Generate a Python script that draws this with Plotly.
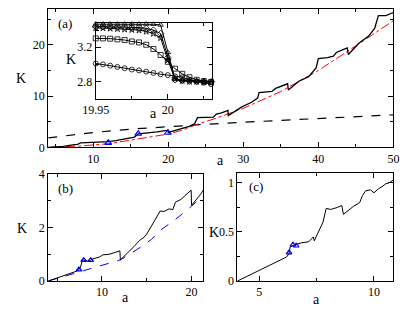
import plotly.graph_objects as go

# ---------------- data ----------------
# panel (a): main curve
a_main = [4, 6, 7.5, 7.9, 8.3, 10, 12, 13, 14.6, 15.5, 16, 17.3, 18.5, 19.8, 19.95, 20.0,
          21.4, 22.8, 23.5, 23.9, 26.0, 26.4, 27.0, 27.95, 28.0, 29.8, 31.1, 31.9, 32.1,
          33.8, 34.3, 35.9, 36.0, 37.4, 38.7, 39.7, 40.0, 41.2, 42.0, 42.4, 43.7, 43.85,
          44.0, 45.4, 46.7, 47.5, 48.0, 49.0, 50.0]
K_main = [0, 0.2, 0.55, 0.6, 0.87, 0.95, 1.1, 1.3, 1.7, 2.0, 2.65, 2.8, 3.0, 3.3, 3.35, 2.9,
          3.45, 4.1, 4.6, 5.8, 5.9, 6.5, 6.7, 7.2, 6.2, 7.9, 8.8, 9.6, 10.7,
          10.9, 11.5, 12.4, 11.2, 12.9, 13.8, 15.5, 17.3, 17.5, 17.8, 18.5, 19.3, 19.4,
          18.1, 20.3, 21.7, 23.2, 25.7, 25.7, 26.3]
a_fit = [4, 8, 12, 16, 20, 22, 24, 26, 28, 30, 35, 40, 45, 50]
K_fit = [0, 0.25, 0.7, 1.7, 2.6, 3.4, 4.6, 5.5, 6.6, 7.6, 10.9, 15.0, 19.8, 24.7]
a_dash = [4, 10, 15, 20, 25, 30, 35, 40, 45, 50]
K_dash = [1.85, 2.9, 3.55, 4.05, 4.5, 4.9, 5.25, 5.6, 6.0, 6.35]
a_tri = [12, 16, 19.95]
K_tri = [0.88, 2.65, 2.85]

# inset
a_in = [19.95, 19.955, 19.96, 19.965, 19.97, 19.975, 19.98, 19.985, 19.99, 19.995,
        20.0, 20.005, 20.01, 20.015, 20.02, 20.025, 20.03]
K_in_tri = [3.47, 3.47, 3.47, 3.47, 3.47, 3.47, 3.47, 3.47, 3.468, 3.46,
            3.14, 2.83, 2.815, 2.81, 2.805, 2.80, 2.80]
K_in_dia = [3.44, 3.44, 3.44, 3.437, 3.435, 3.43, 3.43, 3.42, 3.40, 3.36,
            3.08, 2.82, 2.81, 2.805, 2.80, 2.80, 2.795]
K_in_star = [3.425, 3.425, 3.42, 3.415, 3.41, 3.405, 3.40, 3.385, 3.36, 3.31,
             3.05, 2.83, 2.81, 2.80, 2.80, 2.795, 2.79]
K_in_sq = [3.303, 3.303, 3.30, 3.292, 3.284, 3.267, 3.256, 3.229, 3.18, 3.11,
           3.03, 2.95, 2.89, 2.85, 2.82, 2.805, 2.795]
K_in_circ = [3.01, 3.0, 2.985, 2.97, 2.955, 2.94, 2.93, 2.915, 2.9, 2.885,
             2.875, 2.86, 2.85, 2.82, 2.80, 2.785, 2.77]

# panel (b)
a_b = [4, 7.26, 7.6, 7.8, 8.5, 8.9, 9.73, 10.1, 10.8, 11.5, 12.0, 12.05, 12.9, 13.6, 14.2,
       14.7, 15.0, 15.6, 16.1, 16.5, 16.9, 17.2, 17.5, 17.9, 18.2, 18.8, 19.3, 19.95, 20.0,
       20.5, 21.0, 21.3]
K_b = [0, 0.38, 0.5, 0.8, 0.73, 0.82, 0.9, 0.98, 1.0, 1.06, 1.13, 0.79, 1.06, 1.3, 1.52,
       1.64, 1.76, 2.1, 2.4, 2.62, 2.6, 2.66, 2.7, 2.67, 2.95, 3.05, 3.2, 3.4, 2.83,
       3.03, 3.24, 3.4]
a_b_fit = [4, 12.05, 14, 15.5, 16.5, 18, 20, 21.3]
K_b_fit = [0, 0.79, 1.2, 1.55, 1.9, 2.25, 2.8, 3.2]
a_b_tri = [7.43, 7.96, 8.74]
K_b_tri = [0.43, 0.78, 0.78]

# panel (c)
a_c = [4.05, 6.19, 6.3, 6.35, 6.55, 6.85, 7.16, 7.36, 7.4, 7.58, 7.78, 7.92, 8.12, 8.4,
       8.6, 8.67, 9.1, 9.38, 9.5, 9.64, 9.85, 10.0, 10.2, 10.4, 10.5, 10.65, 10.85]
K_c = [0, 0.245, 0.28, 0.35, 0.37, 0.39, 0.4, 0.45, 0.41, 0.5, 0.6, 0.74, 0.73, 0.75,
       0.77, 0.68, 0.76, 0.8, 0.87, 0.92, 0.93, 0.9, 0.94, 0.97, 0.99, 1.0, 1.03]
a_c_tri = [6.3, 6.47, 6.61]
K_c_tri = [0.29, 0.37, 0.36]

# ---------------- figure ----------------
W, H = 407, 310
FONT = "Liberation Serif"


def dx(p0, p1):
    return [p0 / W, p1 / W]


def dy(p0, p1):
    return [1 - p1 / H, 1 - p0 / H]


fig = go.Figure()
blk = dict(color="black", width=1)

# panel (a)
fig.add_trace(go.Scatter(x=a_dash, y=K_dash, mode="lines",
                         line=dict(color="black", width=1.2, dash="dash"), xaxis="x", yaxis="y"))
fig.add_trace(go.Scatter(x=a_fit, y=K_fit, mode="lines",
                         line=dict(color="red", width=1, dash="dashdot"), xaxis="x", yaxis="y"))
fig.add_trace(go.Scatter(x=a_main, y=K_main, mode="lines", line=dict(color="black", width=1.3),
                         xaxis="x", yaxis="y"))
fig.add_trace(go.Scatter(x=a_tri, y=K_tri, mode="markers",
                         marker=dict(symbol="triangle-up-open", size=6, color="blue",
                                     line=dict(width=1.2)), xaxis="x", yaxis="y"))

# inset
for ys, sym in [(K_in_circ, "circle-open"), (K_in_sq, "square-open"),
                (K_in_star, "star-open"), (K_in_dia, "diamond-open"),
                (K_in_tri, "triangle-up-open")]:
    fig.add_trace(go.Scatter(x=a_in, y=ys, mode="lines+markers", line=blk,
                             marker=dict(symbol=sym, size=5, color="black",
                                         line=dict(width=0.8, color="black")),
                             xaxis="x2", yaxis="y2", cliponaxis=False))

# panel (b)
fig.add_trace(go.Scatter(x=a_b_fit, y=K_b_fit, mode="lines",
                         line=dict(color="blue", width=1, dash="dash"), xaxis="x3", yaxis="y3"))
fig.add_trace(go.Scatter(x=a_b, y=K_b, mode="lines", line=blk, xaxis="x3", yaxis="y3"))
fig.add_trace(go.Scatter(x=a_b_tri, y=K_b_tri, mode="markers",
                         marker=dict(symbol="triangle-up-open", size=5, color="blue",
                                     line=dict(width=1.2)), xaxis="x3", yaxis="y3"))

# panel (c)
fig.add_trace(go.Scatter(x=a_c, y=K_c, mode="lines", line=blk, xaxis="x4", yaxis="y4"))
fig.add_trace(go.Scatter(x=a_c_tri, y=K_c_tri, mode="markers",
                         marker=dict(symbol="triangle-up-open", size=5, color="blue",
                                     line=dict(width=1.2)), xaxis="x4", yaxis="y4"))

tickfont = dict(family=FONT, size=12, color="black")
common = dict(showline=True, linecolor="black", linewidth=1, mirror="allticks",
              ticks="inside", ticklen=5, tickwidth=1, tickcolor="black",
              showgrid=False, zeroline=False, tickfont=tickfont)


def minor(d, t0=0):
    return dict(ticks="inside", ticklen=3, tickwidth=1, tickcolor="black",
                dtick=d, tick0=t0, showgrid=False)


fig.update_layout(
    width=W, height=H, margin=dict(l=0, r=0, t=0, b=0),
    paper_bgcolor="white", plot_bgcolor="white", showlegend=False,
    xaxis=dict(domain=dx(36, 399), anchor="y", range=[4, 50], tick0=0, dtick=10,
               minor=minor(5), **common),
    yaxis=dict(domain=dy(2, 147), anchor="x", range=[0, 27], tick0=0, dtick=10,
               minor=minor(5), **common),
    xaxis2=dict(domain=dx(86, 208), anchor="y2", range=[19.95, 20.0305],
                tickvals=[19.95, 20.0], ticktext=["19.95", "20"],
                minor=minor(0.025, 19.95), **common),
    yaxis2=dict(domain=dy(17, 96), anchor="x2", range=[2.6, 3.48], tick0=2.8, dtick=0.4,
                minor=minor(0.2, 2.8), **common),
    xaxis3=dict(domain=dx(36, 199), anchor="y3", range=[4, 21.3], tick0=0, dtick=10,
                minor=minor(5), **common),
    yaxis3=dict(domain=dy(175, 287), anchor="x3", range=[0, 4], tick0=0, dtick=2,
                minor=minor(1), **common),
    xaxis4=dict(domain=dx(235, 399), anchor="y4", range=[4.05, 10.85], tick0=0, dtick=5,
                minor=minor(2.5), **common),
    yaxis4=dict(domain=dy(174, 287), anchor="x4", range=[0, 1.1], tickvals=[0, 0.5, 1],
                ticktext=["0", "0.5", "1"], minor=minor(0.25), **common),
)


def ann(text, px, py, size=14):
    fig.add_annotation(text=text, x=px / W, y=1 - py / H,
                       xref="paper", yref="paper",
                       showarrow=False, xanchor="center", yanchor="middle",
                       font=dict(family=FONT, size=size, color="black"))


ann("K", 7, 75)
ann("a", 217, 161)
ann("(a)", 54, 17, 13)
ann("K", 60, 55)
ann("a", 147, 112)
ann("K", 8, 232)
ann("a", 117, 304)
ann("(b)", 54, 190, 13)
ann("K", 210, 236)
ann("a", 318, 306)
ann("(c)", 255, 188, 13)

# remove the default 8px page margin so the figure sits at the window's top-left
fig.write_html("out.html", config={"displayModeBar": False},
               post_script="document.body.style.margin='0';")
